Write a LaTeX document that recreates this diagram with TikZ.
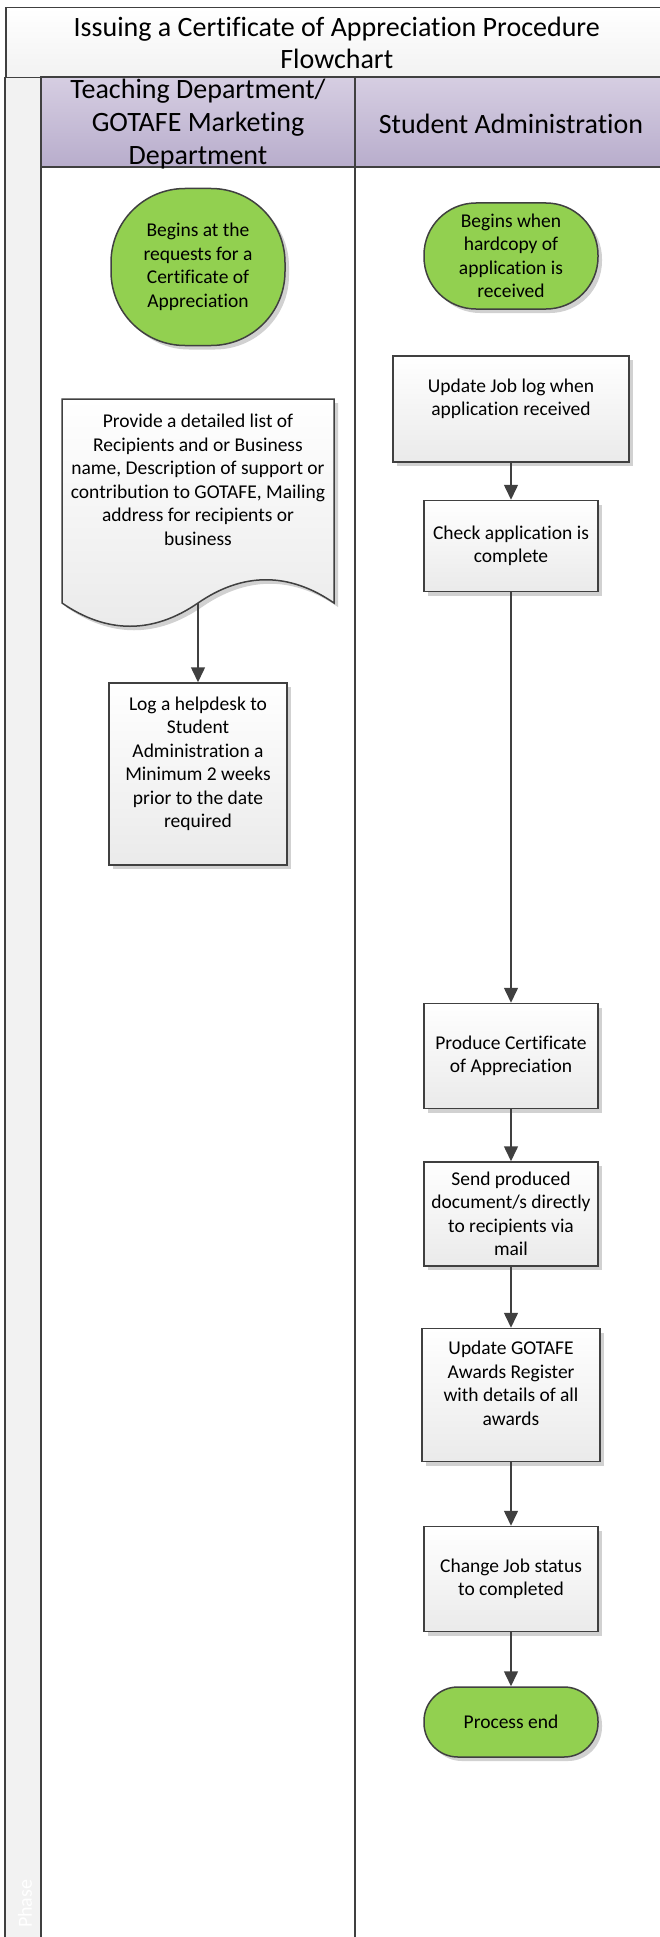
\documentclass[tikz,border=0pt]{standalone}
\usepackage{fontspec}
\setmainfont{Carlito}[Ligatures=NoCommon]
\usetikzlibrary{arrows.meta,shadows}

\definecolor{lineclr}{RGB}{64,64,64}
\definecolor{termclr}{RGB}{146,208,80}
\definecolor{boxbot}{RGB}{234,234,234}
\definecolor{headtop}{RGB}{214,206,226}
\definecolor{headbot}{RGB}{184,173,204}
\definecolor{stripclr}{RGB}{242,242,242}

\begin{document}
\begin{tikzpicture}[x=1pt,y=1pt,>={Triangle[length=15pt,width=14pt]},line width=1.5pt,
    shadowed/.style={drop shadow={shadow xshift=4pt,shadow yshift=-4pt,opacity=.18,fill=black}},
    term/.style={draw=lineclr,fill=termclr,shadowed,minimum width=174pt,align=center,
      font=\fontsize{19.5}{23.5}\selectfont,inner sep=2pt},
    proc/.style={draw=lineclr,top color=white,bottom color=boxbot,shadowed,align=center,
      minimum width=174pt,font=\fontsize{19.5}{23.5}\selectfont,inner sep=2pt},
    headtxt/.style={align=center,font=\fontsize{28}{33}\selectfont},
    lane/.style={draw=lineclr,line width=1.5pt},
    flow/.style={->,draw=lineclr}]

      \useasboundingbox (0,0) rectangle (660,-1937);
      \clip (0,0) rectangle (660,-1937);

      % pool, title and lanes
      \fill[stripclr] (5,-77) rectangle (41,-1960);
      \node[draw=lineclr,top color=white,bottom color=stripclr,minimum width=662pt,minimum height=70pt,
        inner sep=0pt,anchor=north west,align=center,font=\fontsize{28}{32}\selectfont] (title) at (5,-7)
        {Issuing a Certificate of Appreciation Procedure\\Flowchart};
      \draw[lane,top color=headtop,bottom color=headbot] (41,-77) rectangle (355,-167);
      \draw[lane,top color=headtop,bottom color=headbot] (355,-77) rectangle (667,-167);
      \node[headtxt] (lane1) at (198,-124) {Teaching Department/\\GOTAFE Marketing\\Department};
      \node[headtxt] (lane2) at (511,-124) {Student Administration};
      \draw[lane] (5,-77) -- (5,-1960);
      \draw[lane] (41,-167) -- (41,-1960);
      \draw[lane] (355,-167) -- (355,-1960);
      \node[rotate=90,anchor=west,text=white,font=\fontsize{20}{24}\selectfont] (phase) at (25,-1932) {Phase};

      % teaching department lane
      \node[term,minimum height=157pt,rounded corners=74pt] (start1) at (198,-267)
        {Begins at the\\requests for a\\Certificate of\\Appreciation};
      \draw[draw=lineclr,top color=white,bottom color=boxbot,shadowed]
        (62,-399) -- (334,-399) -- (334,-603)
        .. controls (289,-572) and (243,-572) .. (198,-603)
        .. controls (153,-634) and (107,-634) .. (62,-603) -- cycle;
      \node[align=center,font=\fontsize{19.5}{23.5}\selectfont] (doc) at (198,-480)
        {Provide a detailed list of\\Recipients and or Business\\name, Description of support or\\contribution to GOTAFE, Mailing\\address for recipients or\\business};
      \coordinate (docout) at (198,-603);
      \node[proc,minimum width=178pt,minimum height=182pt] (log) at (198,-774)
        {Log a helpdesk to\\Student\\Administration a\\Minimum 2 weeks\\prior to the date\\required\\~};

      % student administration lane
      \node[term,minimum height=106pt,rounded corners=52pt] (start2) at (511,-256)
        {Begins when\\hardcopy of\\application is\\received};
      \node[proc,minimum width=236pt,minimum height=106pt,node distance=153pt,below of=start2] (upd)
        {Update Job log when\\application received\\~};
      \node[proc,minimum height=91pt,node distance=137pt,below of=upd] (chk)
        {Check application is\\complete};
      \node[proc,minimum height=105pt,node distance=510pt,below of=chk] (prod)
        {Produce Certificate\\of Appreciation};
      \node[proc,minimum height=104pt,node distance=158pt,below of=prod] (send)
        {Send produced\\document/s directly\\to recipients via\\mail};
      \node[proc,minimum width=178pt,minimum height=133pt,node distance=181pt,below of=send] (awd)
        {Update GOTAFE\\Awards Register\\with details of all\\awards\\~};
      \node[proc,minimum height=105pt,node distance=184pt,below of=awd] (chg)
        {Change Job status\\to completed};
      \node[term,minimum height=70pt,rounded corners=34pt,node distance=143pt,below of=chg] (pend)
        {Process end};

      \draw[flow] (docout) -- (log);
      \draw[flow] (upd) -- (chk);
      \draw[flow] (chk) -- (prod);
      \draw[flow] (prod) -- (send);
      \draw[flow] (send) -- (awd);
      \draw[flow] (awd) -- (chg);
      \draw[flow] (chg) -- (pend);
    \end{tikzpicture}
\end{document}
